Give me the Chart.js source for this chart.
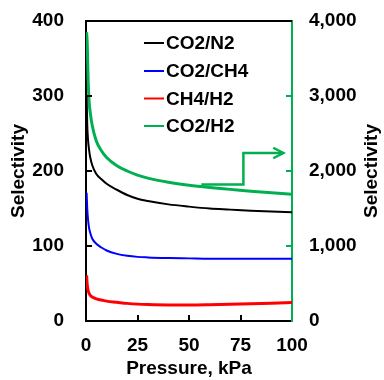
<!DOCTYPE html>
<html>
<head>
<meta charset="utf-8">
<script src="https://cdn.jsdelivr.net/npm/chart.js@4"></script>
<style>
  html, body { margin: 0; padding: 0; background: #fff; }
  #wrap { width: 384px; height: 380px; }
</style>
</head>
<body>
<div id="wrap"><canvas id="selChart" width="384" height="380"></canvas></div>
<script>
// data
const pressure = [0.3, 0.6, 1, 1.5, 2, 3, 5, 7.5, 10, 15, 20, 25, 30, 40, 50, 60, 70, 80, 90, 100];
const co2n2  = [300, 262, 241, 228, 219, 208, 196, 189, 183, 175, 168, 163, 160, 155.5, 152.5, 150, 148.5, 147, 146, 145];
const co2ch4 = [171, 150, 135, 124, 118, 110, 103, 98, 94, 89.5, 87, 85.5, 84.8, 84, 83.5, 83, 83, 83, 83, 83];
const ch4h2  = [61, 48, 41, 37, 34.5, 32, 29.5, 28, 26.5, 25, 23.5, 22.5, 22, 21.5, 21.5, 21.8, 22.3, 23, 23.8, 24.8];
const co2h2  = [3850, 3700, 3250, 2930, 2790, 2610, 2400, 2270, 2180, 2070, 2000, 1945, 1905, 1850, 1810, 1780, 1755, 1730, 1710, 1690];
const seriesNames = ['CO2/N2', 'CO2/CH4', 'CH4/H2', 'CO2/H2'];
const leftTicks = [0, 100, 200, 300, 400];
const rightTicks = [0, 1000, 2000, 3000, 4000];
const xTicks = [0, 25, 50, 75, 100];
// arrow pointing to the right axis (left-axis units)
const arrowX = [56, 76.4, 76.4, 95.8];
const arrowY = [182, 182, 224, 224];
const headX = [90.9, 95.8, 90.9];
const headY = [231, 224, 217];

const GREEN = '#00B050';
const FONT = { family: '"Liberation Sans", Arial, sans-serif', size: 19, weight: 'bold' };

function pts(xs, ys) {
    return xs.map((x, i) => ({ x: x, y: ys[i] }));
}

const colors = ['#000000', '#0000FF', '#FF0000', GREEN];

const extras = {
    id: 'extras',
    afterDraw(chart) {
        const ctx = chart.ctx;
        const a = chart.chartArea;
        const x = chart.scales.x, yl = chart.scales.y, yr = chart.scales.y2;
        ctx.save();
        ctx.lineWidth = 2;
        // top frame line
        ctx.strokeStyle = '#000';
        ctx.beginPath();
        ctx.moveTo(a.left, a.top);
        ctx.lineTo(a.right, a.top);
        ctx.stroke();
        // inward tick marks
        ctx.beginPath();
        leftTicks.slice(1, -1).forEach(v => {
            const py = Math.round(yl.getPixelForValue(v));
            ctx.moveTo(a.left, py);
            ctx.lineTo(a.left + 6, py);
        });
        xTicks.slice(1, -1).forEach(v => {
            const px = Math.round(x.getPixelForValue(v));
            ctx.moveTo(px, a.bottom);
            ctx.lineTo(px, a.bottom - 6);
        });
        ctx.stroke();
        ctx.strokeStyle = GREEN;
        ctx.beginPath();
        rightTicks.slice(1, -1).forEach(v => {
            const py = Math.round(yr.getPixelForValue(v));
            ctx.moveTo(a.right, py);
            ctx.lineTo(a.right - 6, py);
        });
        ctx.stroke();

        // legend inside the plot
        ctx.font = 'bold 19px "Liberation Sans", Arial, sans-serif';
        ctx.textBaseline = 'middle';
        ctx.textAlign = 'left';
        const rows = [43, 71, 98.5, 126];
        seriesNames.forEach((name, i) => {
            ctx.strokeStyle = colors[i];
            ctx.lineWidth = 2;
            ctx.beginPath();
            ctx.moveTo(144, rows[i]);
            ctx.lineTo(164, rows[i]);
            ctx.stroke();
            ctx.fillStyle = '#000';
            ctx.fillText(name, 166, rows[i] + 1);
        });

        // right axis title, reading bottom to top
        ctx.translate(372, (a.top + a.bottom) / 2);
        ctx.rotate(-Math.PI / 2);
        ctx.textAlign = 'center';
        ctx.fillText('Selectivity', 0, 0);
        ctx.restore();
    }
};

function fixV(w) {
    return s => { s.width = w; s.paddingTop = 0; s.paddingBottom = 0; };
}

const ctx = document.getElementById('selChart').getContext('2d');
const selChart = new Chart(ctx, {
    type: 'line',
    data: {
        datasets: [
            { label: seriesNames[0], data: pts(pressure, co2n2), borderColor: colors[0], borderWidth: 2, yAxisID: 'y' },
            { label: seriesNames[1], data: pts(pressure, co2ch4), borderColor: colors[1], borderWidth: 2, yAxisID: 'y' },
            { label: seriesNames[2], data: pts(pressure, ch4h2), borderColor: colors[2], borderWidth: 3, yAxisID: 'y' },
            { label: seriesNames[3], data: pts(pressure, co2h2), borderColor: colors[3], borderWidth: 3, yAxisID: 'y2' },
            { label: 'arrow', data: pts(arrowX, arrowY), borderColor: GREEN, borderWidth: 2.5, yAxisID: 'y', cubicInterpolationMode: 'default', tension: 0 },
            { label: 'head', data: pts(headX, headY), borderColor: GREEN, borderWidth: 2.5, yAxisID: 'y', cubicInterpolationMode: 'default', tension: 0 }
        ]
    },
    options: {
        responsive: false,
        animation: false,
        events: [],
        layout: { padding: { top: 21, left: 0, right: 0, bottom: 0 } },
        elements: {
            point: { radius: 0 },
            line: { cubicInterpolationMode: 'monotone', fill: false }
        },
        plugins: { legend: { display: false }, tooltip: { enabled: false } },
        scales: {
            x: {
                type: 'linear', min: 0, max: 100,
                afterBuildTicks: s => { s.ticks = xTicks.map(v => ({ value: v })); },
                afterFit: s => { s.height = 59; s.paddingLeft = 0; s.paddingRight = 0; },
                grid: { display: false, drawTicks: false },
                border: { display: true, color: '#000', width: 2 },
                ticks: { color: '#000', font: FONT, padding: 13, maxRotation: 0 },
                title: { display: true, text: 'Pressure, kPa', color: '#000', font: FONT, padding: { top: -1, bottom: 0 } }
            },
            y: {
                position: 'left', min: 0, max: 400,
                afterBuildTicks: s => { s.ticks = leftTicks.map(v => ({ value: v })); },
                afterFit: fixV(86),
                grid: { display: false, drawTicks: false },
                border: { display: true, color: '#000', width: 2 },
                ticks: { color: '#000', font: FONT, padding: 22 },
                title: { display: true, text: 'Selectivity', color: '#000', font: FONT, padding: { top: 7.5, bottom: 0 } }
            },
            y2: {
                position: 'right', min: 0, max: 4000,
                afterBuildTicks: s => { s.ticks = rightTicks.map(v => ({ value: v })); },
                afterFit: fixV(92),
                grid: { display: false, drawTicks: false },
                border: { display: true, color: GREEN, width: 2 },
                ticks: { color: '#000', font: FONT, padding: 17, callback: v => v.toLocaleString('en-US') }
            }
        }
    },
    plugins: [extras]
});
</script>
</body>
</html>
